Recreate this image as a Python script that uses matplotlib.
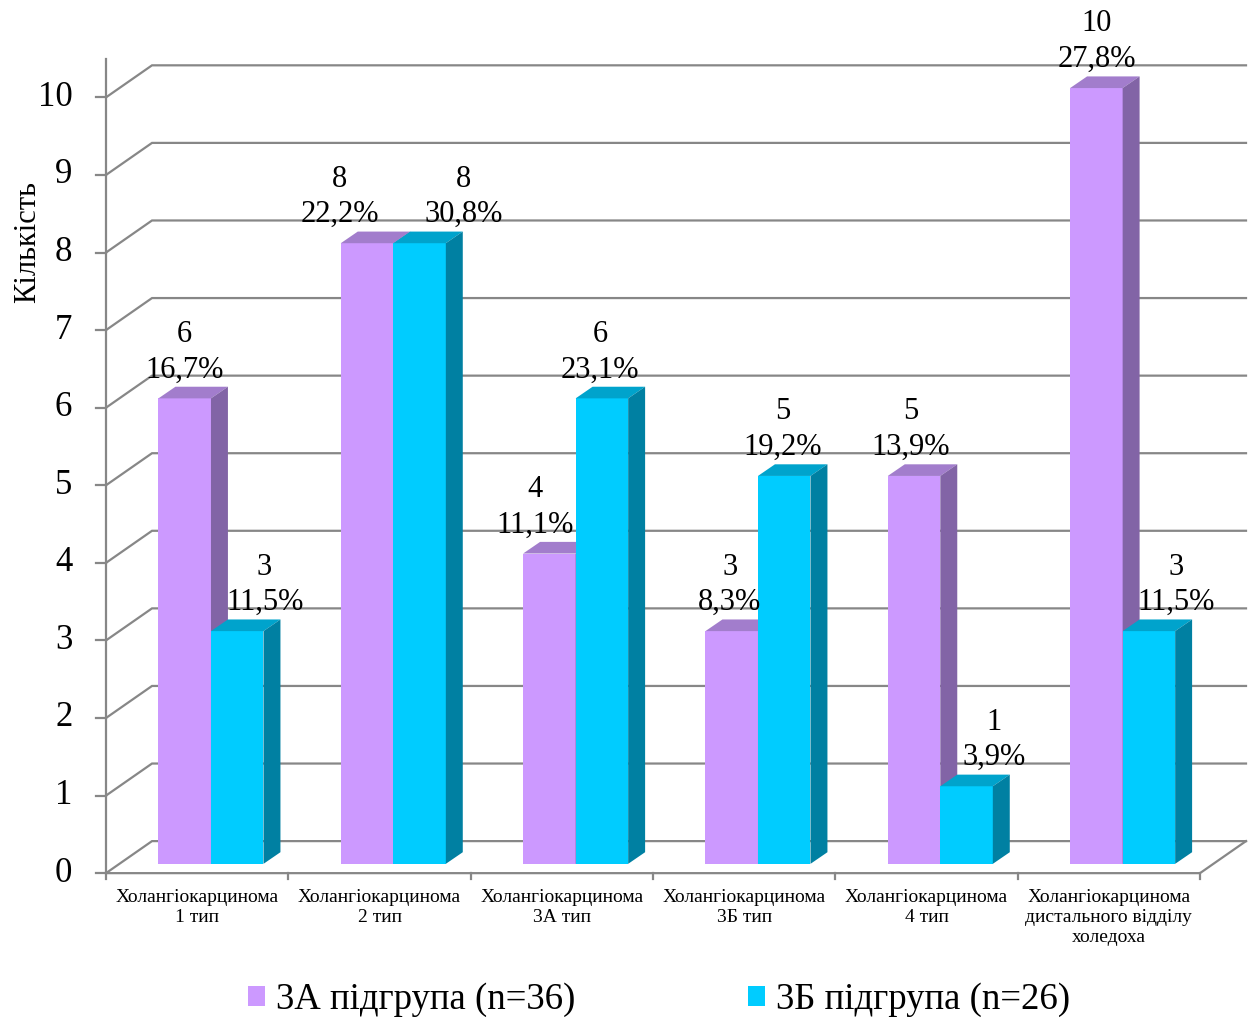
import matplotlib.pyplot as plt
from matplotlib.patches import Polygon, Patch

plt.rcParams['font.family'] = ['Liberation Serif', 'DejaVu Serif']

categories = ['Холангіокарцинома\n1 тип', 'Холангіокарцинома\n2 тип',
              'Холангіокарцинома\n3А тип', 'Холангіокарцинома\n3Б тип',
              'Холангіокарцинома\n4 тип',
              'Холангіокарцинома\nдистального відділу\nхоледоха']
group_a = [6, 8, 4, 3, 5, 10]
group_b = [3, 8, 6, 5, 1, 3]
pct_a = ['16,7%', '22,2%', '11,1%', '8,3%', '13,9%', '27,8%']
pct_b = ['11,5%', '30,8%', '23,1%', '19,2%', '3,9%', '11,5%']
series_names = ['3А підгрупа (n=36)', '3Б підгрупа (n=26)']
yticks = list(range(0, 11))

# face colours: front, top, side
col_a = ('#CC99FF', '#A27DCC', '#8264A6')
col_b = ('#00CCFF', '#00A3CC', '#0080A2')
grid_col = '#878787'

# sideways nudges of the value labels (axis units) so they don't collide
nudge_a = [0.0, -0.15, -0.08, -0.01, -0.02, 0.0]
nudge_b = [0.15, 0.24, -0.01, -0.01, 0.15, 0.15]

fig = plt.figure(figsize=(12.51, 10.19), dpi=100)
ax = fig.add_axes([0, 0, 1, 1])
ax.set_xlim(-0.5814, 6.2797)
ax.set_ylim(-1.88, 11.255)
ax.axis('off')

# perspective offsets
wx, wy = 0.2523, 0.413     # back wall
sx, sy = 0.0757, 0.12      # bar front plane
dx, dy = 0.093, 0.15       # bar depth
w = 0.288                  # bar width
n = len(categories)

# back wall gridlines
for v in yticks:
    ax.plot([0, wx, n + wx], [v, v + wy, v + wy], color=grid_col, lw=1.6,
            solid_joinstyle='miter', zorder=1)
# floor edges
ax.plot([0, n, n + wx], [0, 0, wy], color=grid_col, lw=1.6, zorder=1)
# value axis
ax.plot([0, 0], [0, 10.5], color=grid_col, lw=1.6, zorder=1)
for v in yticks:
    ax.plot([-0.055, 0], [v, v], color=grid_col, lw=1.6, zorder=1)
    ax.text(-0.185, v, str(v), ha='right', va='center', fontsize=25)
for i in range(n + 1):
    ax.plot([i, i], [0, -0.07], color=grid_col, lw=1.6, zorder=1)


def bar3d(x0, h, cols, z):
    front, top, side = cols
    b = sy
    t = sy + h
    ax.add_patch(Polygon([(x0, b), (x0 + w, b), (x0 + w, t), (x0, t)],
                         closed=True, fc=front, ec='none', zorder=z))
    ax.add_patch(Polygon([(x0, t), (x0 + w, t), (x0 + w + dx, t + dy),
                          (x0 + dx, t + dy)],
                         closed=True, fc=top, ec='none', zorder=z))
    ax.add_patch(Polygon([(x0 + w, b), (x0 + w + dx, b + dy),
                          (x0 + w + dx, t + dy), (x0 + w, t)],
                         closed=True, fc=side, ec='none', zorder=z))


lbl = dict(ha='center', va='bottom', multialignment='center', fontsize=22,
           linespacing=1.3, zorder=20)
for i in range(n):
    mid = i + 0.5 + sx
    bar3d(mid - w, group_a[i], col_a, 2 + 2 * i)
    bar3d(mid, group_b[i], col_b, 3 + 2 * i)
    ax.text(mid - w / 2 + nudge_a[i], sy + group_a[i] + dy + 0.03,
            f'{group_a[i]}\n{pct_a[i]}', **lbl)
    ax.text(mid + w / 2 + nudge_b[i], sy + group_b[i] + dy + 0.03,
            f'{group_b[i]}\n{pct_b[i]}', **lbl)
    ax.text(i + 0.5, -0.2, categories[i], ha='center', va='top',
            multialignment='center', fontsize=14, linespacing=1.25)

ax.text(-0.428, 8.13, 'Кількість', rotation=90, ha='center', va='center',
        fontsize=22)

handles = [Patch(facecolor=col_a[0]), Patch(facecolor=col_b[0])]
fig.legend(handles, series_names, loc='center',
           bbox_to_anchor=(0.527, 1 - 1000 / 1019), ncol=2, frameon=False,
           fontsize=26.5, handlelength=0.46, handleheight=0.46,
           handletextpad=0.3, columnspacing=4.7)

fig.savefig('out.png', dpi=100)
